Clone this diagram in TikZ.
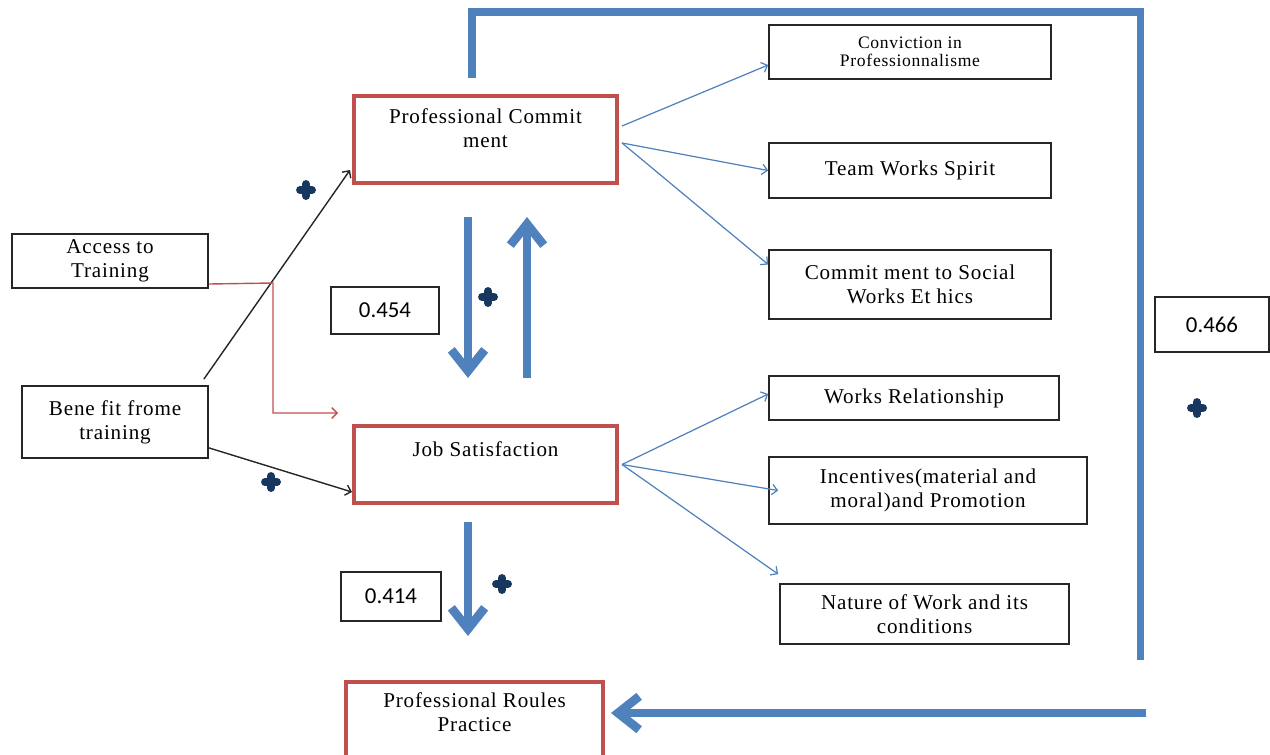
\documentclass[tikz,border=0pt]{standalone}
\usepackage{fontspec}
\setmainfont{Liberation Serif}[LetterSpace=4]
\newfontfamily\numfont{Carlito}
\usetikzlibrary{arrows.meta, positioning, calc}

\definecolor{boxred}{RGB}{192,80,77}
\definecolor{lineblue}{RGB}{79,129,189}
\definecolor{plusnavy}{RGB}{23,55,94}

\tikzset{
    factor/.style = {draw = boxred, line width = 2.3pt, rectangle},
    heading/.style = {align = center, inner sep = 2pt, font = \fontsize{12}{13.7}\selectfont},
    item/.style = {draw = black!85, line width = 1pt, align = center, font = \fontsize{12}{13.7}\selectfont},
    smallitem/.style = {item, font = \fontsize{10}{10.5}\selectfont},
    value/.style = {draw = black!85, line width = 1pt, font = \numfont\fontsize{13}{15}\selectfont},
    link/.style = {draw = lineblue, line width = 0.7pt, -{Straight Barb[length=3pt, width=6pt]}},
    cause/.style = {draw = black!85, line width = 0.8pt, -{Straight Barb[length=3pt, width=6pt]}},
    train/.style = {draw = boxred, line width = 0.8pt, -{Straight Barb[length=3pt, width=6pt]}},
    flow/.style = {draw = lineblue, line width = 5pt, -{Straight Barb[length=12pt, width=19pt]}},
    loop/.style = {draw = lineblue, line width = 4pt},
    plusmark/.style = {draw = plusnavy, line width = 4.5pt, line cap = round}
}

\begin{document}
\begin{tikzpicture}[x=0.02cm, y=-0.02cm]
    \useasboundingbox (0,0) rectangle (1270,754);
    \clip (0,0) rectangle (1270,754);

    % main factors
    \node[factor, minimum width=5.26cm, minimum height=1.74cm] (pc) at (485.5,139.5) {};
    \node[heading, below=6pt of pc.north] (pctext) {Professional Commit\\ment};
    \node[factor, minimum width=5.26cm, minimum height=1.54cm] (js) at (485.5,464.5) {};
    \node[heading, below=8pt of js.north] (jstext) {Job Satisfaction};
    \node[factor, minimum width=5.14cm, minimum height=1.76cm] (prp) at (474.5,726) {};
    \node[heading, below=5pt of prp.north] (prptext) {Professional Roules\\Practice};

    % training
    \node[item, minimum width=3.92cm, minimum height=1.08cm] (access) at (110,261) {Access to\\Training};
    \node[item, minimum width=3.72cm, minimum height=1.44cm] (bene) at (115,422) {Bene fit frome\\training};

    % dimensions
    \node[smallitem, minimum width=5.64cm, minimum height=1.08cm] (conv) at (910,52) {Conviction in\\Professionnalisme};
    \node[item, minimum width=5.64cm, minimum height=1.1cm] (team) at (910,170.5) {Team Works Spirit};
    \node[item, minimum width=5.64cm, minimum height=1.38cm] (social) at (910,284.5) {Commit ment to Social\\Works Et hics};
    \node[item, minimum width=5.8cm, minimum height=0.88cm] (rel) at (914,398) {Works Relationship};
    \node[item, minimum width=6.36cm, minimum height=1.34cm] (incent) at (928,490.5) {Incentives(material and\\moral)and Promotion};
    \node[item, minimum width=5.78cm, minimum height=1.2cm] (nature) at (924.5,614) {Nature of Work and its\\conditions};

    % coefficients
    \node[value, minimum width=2.16cm, minimum height=0.94cm] (v454) at (385,310.5) {0.454};
    \node[value, minimum width=2cm, minimum height=0.98cm] (v414) at (391,596.5) {0.414};
    \node[value, minimum width=2.28cm, minimum height=1.1cm] (v466) at (1212,324.5) {0.466};

    % training arrows
    \draw[cause] ($(bene.north east)+(-5,-6)$) -- ($(pc.south west)+(-2,-15)$);
    \draw[cause] ($(bene.south east)+(0,-11)$) -- ($(js.south west)+(0,-13)$);
    \coordinate (bend) at (273,283);
    \draw[train] ($(access.south east)+(0,-5)$) -- (bend) |- ($(js.north west)+(-14,-11)$);

    % dimension arrows
    \draw[link] ($(pc.north east)+(3,32)$) -- ($(conv.west)+(0,13)$);
    \draw[link] ($(pc.north east)+(3,49)$) -- (team.west);
    \draw[link] ($(pc.north east)+(3,49)$) -- ($(social.west)+(0,-20)$);
    \draw[link] ($(js.east)+(3,0)$) -- ($(rel.west)+(0,-4)$);
    \draw[link] ($(js.east)+(3,0)$) -- ($(incent.west)+(10,0)$);
    \draw[link] ($(js.east)+(3,0)$) -- ($(nature.north west)+(-1,-9)$);

    % thick arrows
    \draw[flow] ($(pc.south)+(-17.5,32)$) -- ($(js.north)+(-17.5,-46)$);
    \draw[flow] ($(js.north)+(41.5,-46)$) -- ($(pc.south)+(41.5,32)$);
    \draw[flow] ($(js.south)+(-17.5,17)$) -- ($(prp.north)+(-6.5,-44)$);
    \draw[loop] ($(pc.north)+(-13.5,-16)$) |- (1140,12) -- (1140,660);
    \coordinate (back) at (1146,713);
    \draw[flow] (back) -- ($(prp.east)+(6,-13)$);

    % signs
    \foreach \x/\y in {306/190, 488/297, 271/482, 502/584, 1197/408}
        \draw[plusmark] (\x-6,\y) -- (\x+6,\y) (\x,\y-6) -- (\x,\y+6);
\end{tikzpicture}
\end{document}
